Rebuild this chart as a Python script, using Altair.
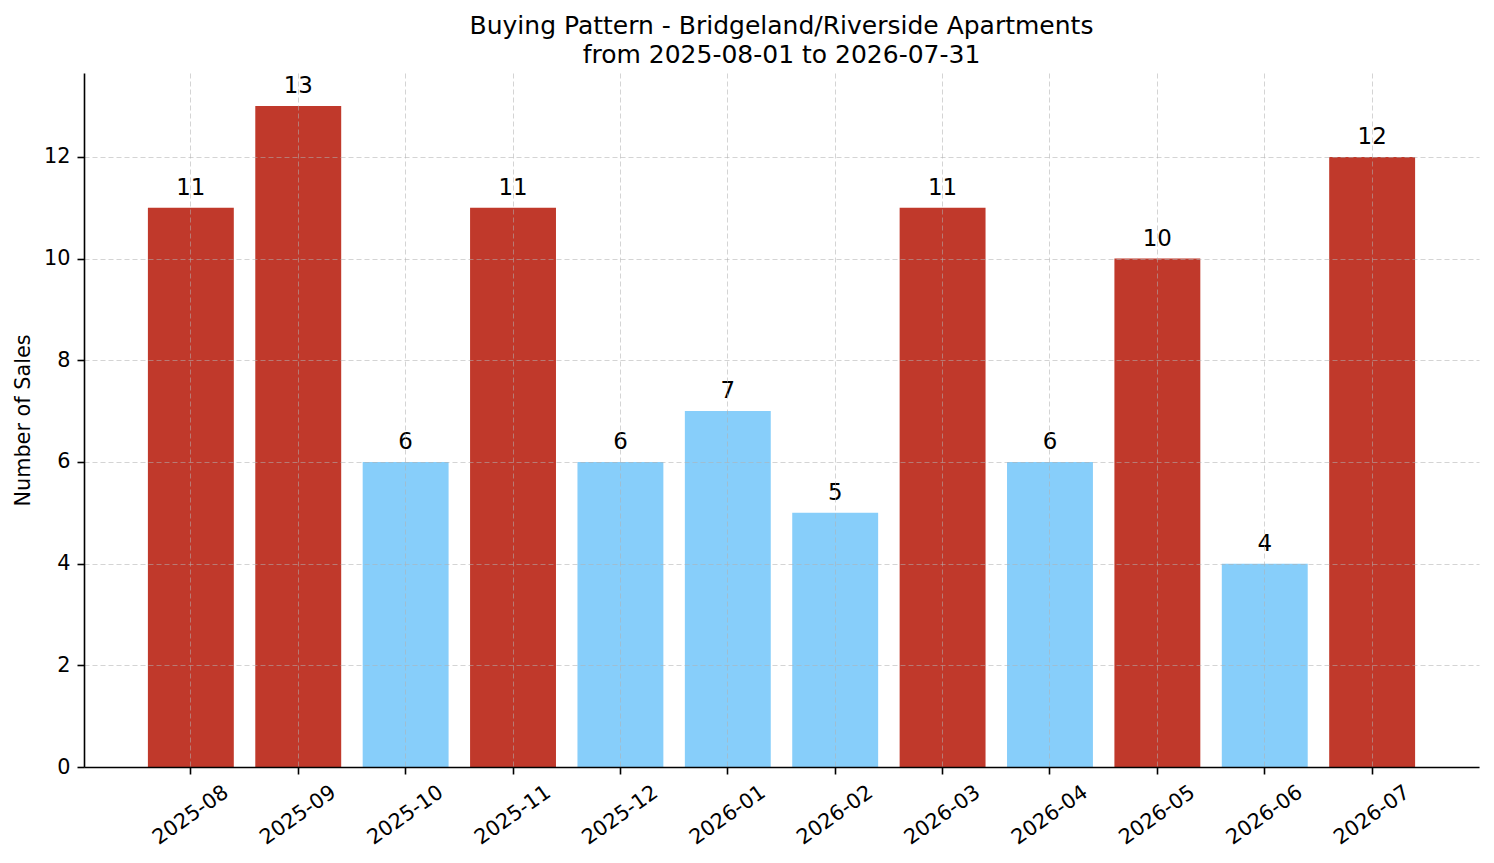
import altair as alt
import pandas as pd

months = ['2025-08', '2025-09', '2025-10', '2025-11', '2025-12', '2026-01',
          '2026-02', '2026-03', '2026-04', '2026-05', '2026-06', '2026-07']
sales = [11, 13, 6, 11, 6, 7, 5, 11, 6, 10, 4, 12]
# high months (>= 10 sales) in red, the rest light blue
level = ['high' if s >= 10 else 'low' for s in sales]

colordomain = ['high', 'low']
colorrange = ['#C0392B', '#87CEFA']

df = pd.DataFrame({'month': months, 'sales': sales, 'level': level})

FONT = 'DejaVu Sans'

x = alt.X('month:N', sort=months, title=None,
          scale=alt.Scale(paddingInner=0.2, paddingOuter=0.595),
          axis=alt.Axis(labelAngle=-35, labelAlign='center', labelBaseline='middle',
                        labelPadding=41, tickSize=7, bandPosition=0.5,
                        grid=True, zindex=1))
y = alt.Y('sales:Q', title='Number of Sales',
          scale=alt.Scale(domain=[0, 13.65], nice=False, zero=True),
          axis=alt.Axis(values=[0, 2, 4, 6, 8, 10, 12], tickSize=7, labelPadding=7,
                        titlePadding=10, grid=True, zindex=1))

base = alt.Chart(df)

bars = base.mark_bar().encode(
    x=x,
    y=y,
    color=alt.Color('level:N', scale=alt.Scale(domain=colordomain, range=colorrange), legend=None),
)

labels = base.mark_text(baseline='alphabetic', dy=-13, fontSize=22.9, font=FONT, color='black').encode(
    x=alt.X('month:N', sort=months),
    y='sales:Q',
    text='sales:Q',
)

chart = (bars + labels).properties(
    width=1395,
    height=694,
    autosize=alt.AutoSizeParams(type='none'),
    padding={'left': 76, 'top': 65, 'right': 7, 'bottom': 88},
    title=alt.Title(['Buying Pattern - Bridgeland/Riverside Apartments',
                     'from 2025-08-01 to 2026-07-31'],
                    fontSize=25, font=FONT, fontWeight='normal', color='black',
                    anchor='middle', lineHeight=29, offset=5),
).configure_view(
    stroke=None,
).configure_axis(
    labelFont=FONT, titleFont=FONT,
    labelFontSize=20.8, titleFontSize=20.8,
    labelColor='black', titleColor='black', titleFontWeight='normal',
    domainColor='black', domainWidth=1.6, tickColor='black', tickWidth=1.6,
    gridColor='#b0b0b0', gridOpacity=0.55, gridDash=[5, 3], gridWidth=1,
)

chart.save("out.html", embed_options={"renderer": "svg", "actions": False})
